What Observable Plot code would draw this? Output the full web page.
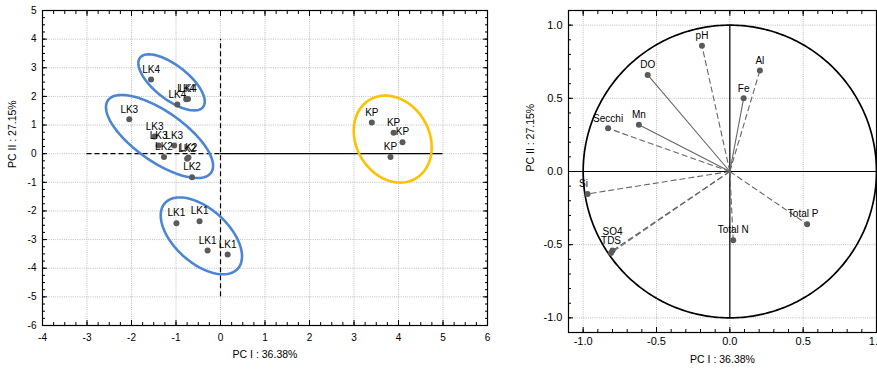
<!DOCTYPE html>
<html><head><meta charset="utf-8">
<script src="https://cdn.jsdelivr.net/npm/d3@7"></script>
<script src="https://cdn.jsdelivr.net/npm/@observablehq/plot@0.6"></script>
<style>
body{margin:0;background:#fff;font-family:"Liberation Sans",Arial,sans-serif;}
#wrap{position:relative;width:877px;height:371px;overflow:hidden;background:#fff}
#left,#right{position:absolute;top:0}
#left{left:0}#right{left:500px}
</style></head><body><div id="wrap"><div id="left"></div><div id="right"></div></div>
<script>
// ---- Scores plot (left) ----
const scoreLabels = ["LK4","LK4","LK4","LK4","LK3","LK3","LK3","LK3","LK2","LK2","LK2","LK2","LK1","LK1","LK1","LK1","KP","KP","KP","KP"];
const scorePC1 = [-1.56,-0.97,-0.77,-0.73,-2.05,-1.48,-1.39,-1.04,-1.27,-0.75,-0.72,-0.64,-0.99,-0.47,-0.29,0.16,3.40,3.89,4.09,3.82];
const scorePC2 = [2.59,1.72,1.90,1.91,1.20,0.60,0.29,0.29,-0.12,-0.18,-0.13,-0.82,-2.43,-2.36,-3.38,-3.52,1.09,0.73,0.40,-0.12];
const leftXTicks = [-4,-3,-2,-1,0,1,2,3,4,5,6];
const leftYTicks = [-6,-5,-4,-3,-2,-1,0,1,2,3,4,5];

// group ellipses (center in data units, semi-axes in px, rotation in degrees)
const groupEllipses = [
  {cx:-1.10, cy:2.49, a:40, b:17, deg:38, color:"#4a86d4"},
  {cx:-1.37, cy:0.60, a:63, b:25, deg:35, color:"#4a86d4"},
  {cx:-0.43, cy:-2.87, a:49, b:27, deg:42, color:"#4a86d4"},
  {cx:3.87, cy:0.51, a:45.6, b:36.5, deg:60, color:"#ffc000"}
];

// ---- Loadings plot (right) ----
const varNames = ["pH","DO","Secchi","Mn","Al","Fe","Si","SO4","TDS","Total P","Total N"];
const loadPC1 = [-0.19,-0.56,-0.83,-0.62,0.205,0.094,-0.97,-0.80,-0.81,0.527,0.023];
const loadPC2 = [0.86,0.66,0.295,0.32,0.69,0.50,-0.153,-0.54,-0.556,-0.36,-0.47];
const solidVars = ["DO","Mn","Fe"];
const rightMajor = [-1,-0.5,0,0.5,1];

const axisTitleX = "PC I : 36.38%";
const axisTitleY = "PC II : 27.15%";
const FONT = "Liberation Sans, Arial, sans-serif";

const scores = scoreLabels.map((l,i)=>({label:l, x:scorePC1[i], y:scorePC2[i]}));
const loads = varNames.map((n,i)=>({name:n, x:loadPC1[i], y:loadPC2[i]}));

// left plot
const LW=500, LH=371, LML=42, LMR=13, LMT=10, LMB=46;
const kx=(LW-LML-LMR)/10, ky=(LH-LMT-LMB)/11;
function ellipsePts(e){
  const th=e.deg*Math.PI/180;
  return d3.range(0,361,3).map(t=>{
    const r=t*Math.PI/180;
    const dx=e.a*Math.cos(r)*Math.cos(th)-e.b*Math.sin(r)*Math.sin(th);
    const dy=e.a*Math.cos(r)*Math.sin(th)+e.b*Math.sin(r)*Math.cos(th);
    return {x:e.cx+dx/kx, y:e.cy-dy/ky};
  });
}
const leftMinorX = d3.range(-16,25).map(i=>i/4);
const leftMinorY = d3.range(-24,21).map(i=>i/4);
const gridStyle = {stroke:"#bdbdbd", strokeOpacity:1, strokeDasharray:"1,1.2", strokeWidth:1};

const leftPlot = Plot.plot({
  width:LW, height:LH, marginLeft:LML, marginRight:LMR, marginTop:LMT, marginBottom:LMB,
  style:{fontFamily:FONT, fontSize:"10px", background:"white", color:"#000"},
  x:{domain:[-4,6]}, y:{domain:[-6,5]},
  marks:[
    Plot.ruleX(leftXTicks, {x:d=>d, ...gridStyle}),
    Plot.ruleY(leftYTicks, {y:d=>d, ...gridStyle}),
    Plot.ruleX([0], {y1:-5, y2:4, stroke:"#000", strokeDasharray:"5,3", strokeWidth:1.2}),
    Plot.ruleY([0], {x1:-3, x2:0, stroke:"#000", strokeDasharray:"5,3", strokeWidth:1.2}),
    Plot.ruleY([0], {x1:0, x2:5, stroke:"#000", strokeWidth:1.2}),
    ...groupEllipses.map(e=>Plot.line(ellipsePts(e), {x:"x", y:"y", stroke:e.color, strokeWidth:2.6})),
    Plot.dot(scores, {x:"x", y:"y", r:3, fill:"#5a5a5a", stroke:null}),
    Plot.text(scores, {x:"x", y:"y", text:"label", dy:-10, fontSize:10, fill:"#000"}),
    Plot.frame({stroke:"#000", strokeWidth:1.2}),
    Plot.axisX(leftXTicks, {tickSize:0, tickPadding:8, tickFormat:d=>String(d), label:null, fontSize:10}),
    Plot.axisY(leftYTicks, {tickSize:0, tickPadding:6, tickFormat:d=>String(d), label:null, fontSize:10}),
    Plot.axisX(leftXTicks, {tickSize:-5, tickFormat:()=>"", label:null}),
    Plot.axisY(leftYTicks, {tickSize:-5, tickFormat:()=>"", label:null}),
    Plot.axisX(leftMinorX, {tickSize:-3, tickFormat:()=>"", label:null}),
    Plot.axisY(leftMinorY, {tickSize:-3, tickFormat:()=>"", label:null}),
    Plot.axisX(leftXTicks, {anchor:"top", tickSize:-5, tickFormat:()=>"", label:null}),
    Plot.axisY(leftYTicks, {anchor:"right", tickSize:-5, tickFormat:()=>"", label:null}),
    Plot.axisX(leftMinorX, {anchor:"top", tickSize:-3, tickFormat:()=>"", label:null}),
    Plot.axisY(leftMinorY, {anchor:"right", tickSize:-3, tickFormat:()=>"", label:null}),
    Plot.text([axisTitleX], {frameAnchor:"bottom", dy:32, text:d=>d, fontSize:10.5}),
    Plot.text([axisTitleY], {frameAnchor:"left", dx:-30, rotate:-90, text:d=>d, fontSize:10.5})
  ]
});
document.getElementById("left").append(leftPlot);

// right plot
const rightMinorX = d3.range(-11,11).map(i=>i/10);
const rightMinorY = d3.range(-11,12).map(i=>i/10);
const circle = d3.range(0,361,1).map(t=>({x:Math.cos(t*Math.PI/180), y:Math.sin(t*Math.PI/180)}));
const fmt1 = d=> (Math.abs(d)<1e-9 ? "0.0" : d.toFixed(1));
const dyFor = n => n==="SO4" ? -19 : n==="TDS" ? -12 : -10;
const dxFor = n => n==="Si" ? -4 : n==="Total P" ? -4 : 0;

const rightPlot = Plot.plot({
  width:377, height:371, marginLeft:68, marginRight:1, marginTop:10, marginBottom:39,
  style:{fontFamily:FONT, fontSize:"11px", background:"white", color:"#000"},
  x:{domain:[-1.1,1.0]}, y:{domain:[-1.1,1.1]},
  marks:[
    Plot.ruleX(rightMajor, {x:d=>d, ...gridStyle}),
    Plot.ruleY(rightMajor, {y:d=>d, ...gridStyle}),
    Plot.ruleX([0], {y1:-1, y2:1, stroke:"#000", strokeWidth:1.2}),
    Plot.ruleY([0], {stroke:"#000", strokeWidth:1.2}),
    Plot.line(circle, {x:"x", y:"y", stroke:"#000", strokeWidth:1.7}),
    Plot.link(loads.filter(d=>solidVars.includes(d.name)), {x1:0, y1:0, x2:"x", y2:"y", stroke:"#666", strokeWidth:1.1}),
    Plot.link(loads.filter(d=>!solidVars.includes(d.name)), {x1:0, y1:0, x2:"x", y2:"y", stroke:"#666", strokeWidth:1.1, strokeDasharray:"6,3"}),
    Plot.dot(loads, {x:"x", y:"y", r:3, fill:"#5a5a5a", stroke:null}),
    ...loads.map(d=>Plot.text([d], {x:"x", y:"y", text:"name", dy:dyFor(d.name), dx:dxFor(d.name), fontSize:10, fill:"#000"})),
    Plot.frame({stroke:"#000", strokeWidth:1.2}),
    Plot.axisX(rightMajor, {tickSize:0, tickPadding:5, tickFormat:fmt1, label:null, fontSize:11}),
    Plot.axisY(rightMajor, {tickSize:0, tickPadding:6, tickFormat:fmt1, label:null, fontSize:11}),
    Plot.axisX(rightMajor, {tickSize:-5, tickFormat:()=>"", label:null}),
    Plot.axisY(rightMajor, {tickSize:-5, tickFormat:()=>"", label:null}),
    Plot.axisX(rightMinorX, {tickSize:-3, tickFormat:()=>"", label:null}),
    Plot.axisY(rightMinorY, {tickSize:-3, tickFormat:()=>"", label:null}),
    Plot.axisX(rightMajor, {anchor:"top", tickSize:-5, tickFormat:()=>"", label:null}),
    Plot.axisX(rightMinorX, {anchor:"top", tickSize:-3, tickFormat:()=>"", label:null}),
    Plot.text([axisTitleX], {frameAnchor:"bottom", dy:30, text:d=>d, fontSize:10.5}),
    Plot.text([axisTitleY], {frameAnchor:"left", dx:-38, rotate:-90, text:d=>d, fontSize:10.5})
  ]
});
document.getElementById("right").append(rightPlot);
</script>
</body></html>
